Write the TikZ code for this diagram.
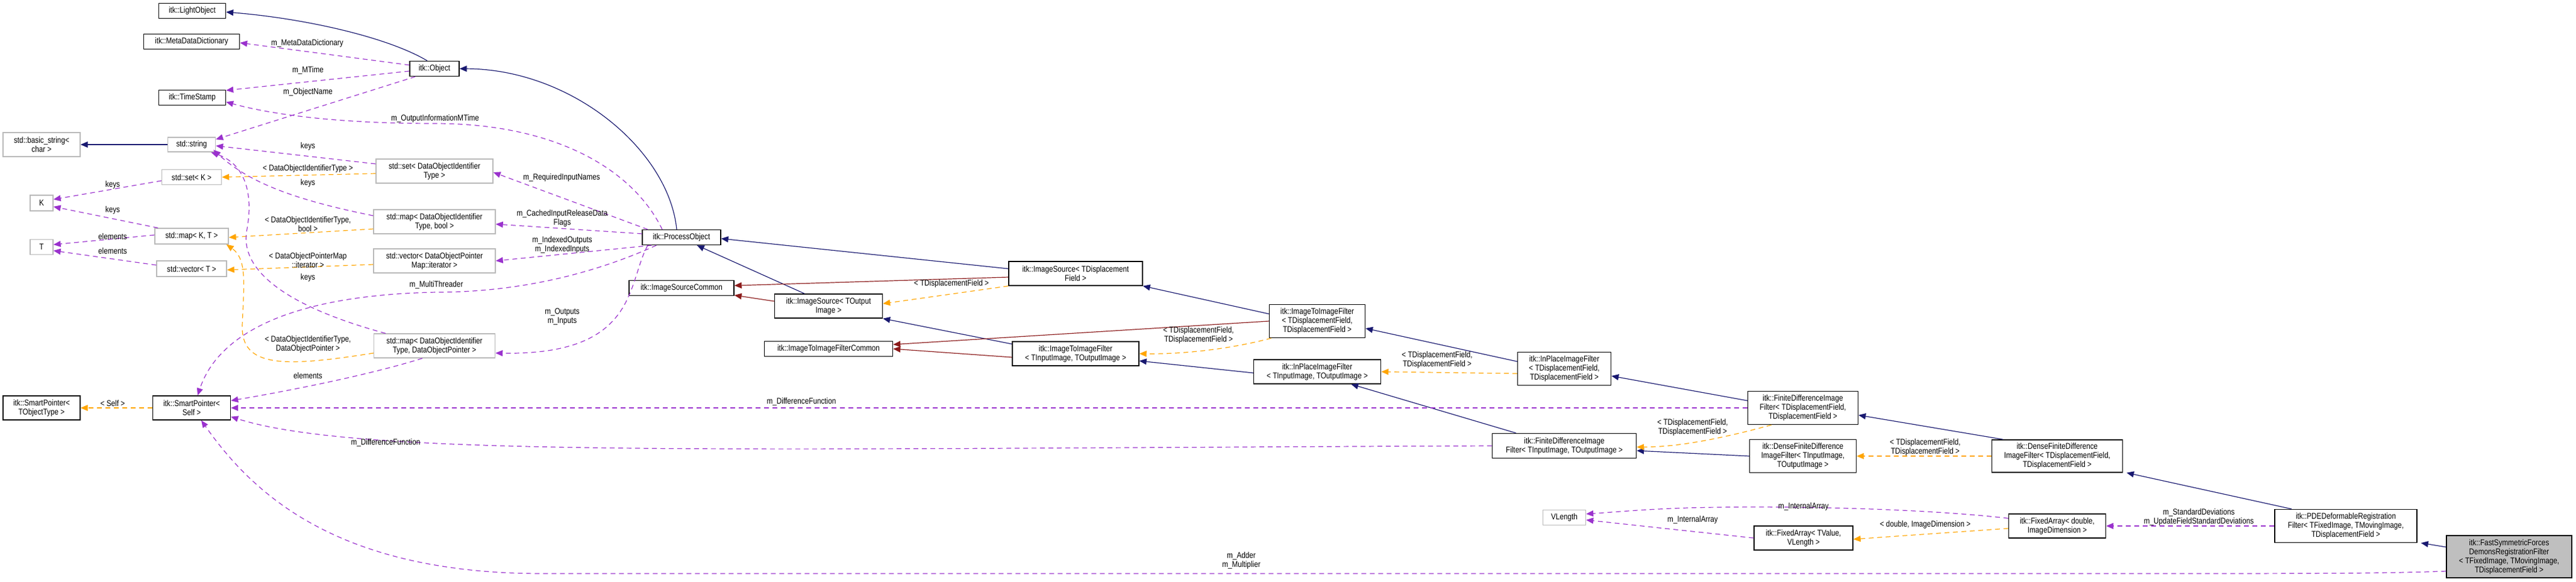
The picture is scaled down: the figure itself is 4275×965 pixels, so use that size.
\documentclass[tikz,border=0pt]{standalone}
\usepackage{fontspec}
\setmainfont{Liberation Sans}[FakeStretch=0.84]
\usetikzlibrary{arrows.meta}
\definecolor{inh}{HTML}{191970}
\definecolor{prv}{HTML}{8B1A1A}
\definecolor{tpl}{HTML}{FFA500}
\definecolor{mem}{HTML}{9A32CD}
\newcommand\bx[7]{\node[#1, minimum width=#5*0.5pt, minimum height=#6*0.5pt] (#2) at (#3,#4) {#7};}
\begin{document}
\begin{tikzpicture}[x=0.5pt,y=-0.5pt,
  font=\fontsize{7}{7.5}\selectfont,
  cls/.style={draw=black, line width=0.7pt, fill=white, align=center, inner sep=1pt},
  ext/.style={draw=gray!55, line width=0.7pt, fill=white, align=center, inner sep=1pt},
  cur/.style={cls, fill=gray!50},
  ih/.style={draw=inh, line width=0.6pt, -{Triangle[length=6pt,width=5pt]}},
  pv/.style={draw=prv, line width=0.6pt, -{Triangle[length=6pt,width=5pt]}},
  tp/.style={draw=tpl, line width=0.6pt, dash pattern=on 4pt off 3pt, -{Triangle[length=6pt,width=5pt]}},
  mb/.style={draw=mem, line width=0.6pt, dash pattern=on 4pt off 3pt, -{Triangle[length=6pt,width=5pt]}},
  lb/.style={align=center, inner sep=0pt}]
\useasboundingbox (0,0) rectangle (4275,965);
% nodes
\bx{cls}{lo}{319}{18}{111}{25}{itk::LightObject}
\bx{cls}{mdd}{318}{69}{159}{25}{itk::MetaDataDictionary}
\bx{cls}{ts}{319}{162}{111}{25}{itk::TimeStamp}
\bx{ext}{bs}{69}{240}{128}{40}{std::basic\_string<\\char >}
\bx{ext}{str}{318}{240}{79}{24}{std::string}
\bx{ext}{setK}{318}{294}{99}{25}{std::set< K >}
\bx{ext}{K}{69}{337}{38}{26}{K}
\bx{ext}{mapKT}{318}{392}{122}{26}{std::map< K, T >}
\bx{ext}{T}{69}{410}{38}{25}{T}
\bx{ext}{vecT}{318}{446}{116}{26}{std::vector< T >}
\bx{cls}{spT}{69}{677}{128}{40}{itk::SmartPointer<\\TObjectType >}
\bx{cls}{spS}{318}{677}{129}{40}{itk::SmartPointer<\\Self >}
\bx{cls}{obj}{721}{114}{82}{25}{itk::Object}
\bx{ext}{setD}{721}{284}{194}{40}{std::set< DataObjectIdentifier\\Type >}
\bx{ext}{mapDb}{721}{368}{202}{40}{std::map< DataObjectIdentifier\\Type, bool >}
\bx{ext}{vecD}{721}{433}{202}{40}{std::vector< DataObjectPointer\\Map::iterator >}
\bx{ext}{mapDP}{721}{574}{201}{40}{std::map< DataObjectIdentifier\\Type, DataObjectPointer >}
\bx{cls}{po}{1131}{394}{130}{25}{itk::ProcessObject}
\bx{cls}{isc}{1131}{478}{174}{25}{itk::ImageSourceCommon}
\bx{cls}{isOut}{1375}{508}{179}{40}{itk::ImageSource< TOutput\\Image >}
\bx{cls}{iifc}{1375}{579}{213}{25}{itk::ImageToImageFilterCommon}
\bx{cls}{isDF}{1785}{454}{222}{40}{itk::ImageSource< TDisplacement\\Field >}
\bx{cls}{iifIn}{1785}{587}{210}{40}{itk::ImageToImageFilter\\< TInputImage, TOutputImage >}
\bx{cls}{iifDF}{2186}{533}{159}{55}{itk::ImageToImageFilter\\< TDisplacementField,\\TDisplacementField >}
\bx{cls}{ipIn}{2186}{617}{211}{40}{itk::InPlaceImageFilter\\< TInputImage, TOutputImage >}
\bx{cls}{ipDF}{2596}{612}{155}{55}{itk::InPlaceImageFilter\\< TDisplacementField,\\TDisplacementField >}
\bx{cls}{fdDF}{2992}{677}{183}{55}{itk::FiniteDifferenceImage\\Filter< TDisplacementField,\\TDisplacementField >}
\bx{cls}{fdIn}{2596}{740}{239}{41}{itk::FiniteDifferenceImage\\Filter< TInputImage, TOutputImage >}
\bx{cls}{dIn}{2992}{757}{177}{55}{itk::DenseFiniteDifference\\ImageFilter< TInputImage,\\TOutputImage >}
\bx{ext}{vl}{2596}{859}{71}{25}{VLength}
\bx{cls}{faV}{2993}{893}{164}{40}{itk::FixedArray< TValue,\\VLength >}
\bx{cls}{dDF}{3414}{757}{217}{54}{itk::DenseFiniteDifference\\ImageFilter< TDisplacementField,\\TDisplacementField >}
\bx{cls}{faD}{3414}{873}{161}{40}{itk::FixedArray< double,\\ImageDimension >}
\bx{cls}{pde}{3893}{873}{236}{55}{itk::PDEDeformableRegistration\\Filter< TFixedImage, TMovingImage,\\TDisplacementField >}
\bx{cur}{fast}{4164}{924}{208}{70}{itk::FastSymmetricForces\\DemonsRegistrationFilter\\< TFixedImage, TMovingImage,\\TDisplacementField >}
% inheritance
\draw[ih] ([xshift=-6pt]obj.north) .. controls (640,60) and (500,30) .. ([yshift=-1pt]lo.east);
\draw[ih] ([xshift=-4pt]po.north) .. controls (1110,250) and (950,115) .. (obj.east);
\draw[ih] (str) -- (bs);
\draw[ih] ([xshift=-20pt]isOut.north) -- ([xshift=-20pt]po.south east);
\draw[ih] ([yshift=4pt]isDF.west) -- ([yshift=-1pt]po.east);
\draw[pv] ([yshift=-3pt]isDF.west) -- ([yshift=2pt]isc.east);
\draw[pv] ([yshift=4pt]isOut.west) -- ([yshift=-6pt]isc.east);
\draw[ih] ([yshift=8pt]iifIn.west) -- (isOut.south east);
\draw[pv] ([yshift=-3pt]iifIn.west) -- (iifc.east);
\draw[pv] (iifDF.west) -- ([yshift=-3pt]iifc.north east);
\draw[ih] ([yshift=6pt]iifDF.west) -- (isDF.south east);
\draw[ih] ([yshift=-1pt]ipIn.west) -- ([yshift=-6pt]iifIn.east);
\draw[ih] ([yshift=6pt]ipDF.west) -- ([yshift=-6pt]iifDF.east);
\draw[ih] ([xshift=-40pt]fdIn.north) -- ([xshift=-25pt]ipIn.south east);
\draw[ih] ([yshift=6pt]fdDF.west) -- ([yshift=-6pt]ipDF.east);
\draw[ih] (dIn.west) -- ([yshift=-4pt]fdIn.east);
\draw[ih] ([xshift=-45pt]dDF.north) -- ([yshift=-6pt]fdDF.east);
\draw[ih] ([xshift=-45pt]pde.north) -- ([xshift=3pt]dDF.south east);
\draw[ih] ([yshift=8pt]fast.west) -- ([xshift=3pt]pde.south east);
% template
\draw[tp] (isDF.south west) -- ([yshift=2pt]isOut.east);
\node[lb] (l1) at (1579,471) {< TDisplacementField >};
\draw[tp] ([xshift=2pt]iifDF.south west) .. controls (2040,580) and (1960,588) .. (iifIn.east);
\node[lb] (l2) at (1989,556) {< TDisplacementField,\\TDisplacementField >};
\draw[tp] ([yshift=-4pt]ipDF.west) -- (ipIn.east);
\node[lb] (l3) at (2385,597) {< TDisplacementField,\\TDisplacementField >};
\draw[tp] ([xshift=20pt]fdDF.south west) .. controls (2850,730) and (2780,742) .. ([yshift=-1pt]fdIn.east);
\node[lb] (l4) at (2809,709) {< TDisplacementField,\\TDisplacementField >};
\draw[tp] (dDF.west) -- (dIn.east);
\node[lb] (l5) at (3195,742) {< TDisplacementField,\\TDisplacementField >};
\draw[tp] ([yshift=-2pt]faD.west) -- ([yshift=-1pt]faV.east);
\node[lb] (l6) at (3195,871) {< double, ImageDimension >};
\draw[tp] ([yshift=-2pt]setD.west) -- (setK.east);
\node[lb] (l7) at (511,280) {< DataObjectIdentifierType >};
\draw[tp] ([yshift=-6pt]mapDb.west) -- ([yshift=-1pt]mapKT.east);
\node[lb] (l8) at (511,372) {< DataObjectIdentifierType,\\bool >};
\draw[tp] ([yshift=-3pt]vecD.west) -- ([yshift=-1pt]vecT.east);
\node[lb] (l9) at (511,432) {< DataObjectPointerMap\\::iterator >};
\draw[tp] ([yshift=-6pt]mapDP.west) .. controls (470,610) and (400,610) .. (402,540) .. controls (405,470) and (410,430) .. ([xshift=-2pt]mapKT.south east);
\node[lb] (l10) at (511,571) {< DataObjectIdentifierType,\\DataObjectPointer >};
\draw[tp] (spS) -- (spT);
\node[lb] (l11) at (187,669) {< Self >};
% members
\draw[mb] ([yshift=3pt]obj.west) -- ([yshift=-1pt]mdd.east);
\node[lb] (m1) at (510,72) {m\_MetaDataDictionary};
\draw[mb] ([yshift=-2pt]obj.west) -- ([yshift=6pt]ts.east);
\node[lb] (m2) at (511,117) {m\_MTime};
\draw[mb] ([xshift=5pt]obj.south west) -- ([yshift=-2pt]str.north east);
\node[lb] (m3) at (511,153) {m\_ObjectName};
\draw[mb] ([xshift=-16pt]po.north) .. controls (1050,280) and (920,205) .. (722,205) .. controls (560,205) and (450,190) .. ([yshift=3pt]ts.south east);
\node[lb] (m4) at (722,197) {m\_OutputInformationMTime};
\draw[mb] ([xshift=-28pt]po.north) -- ([yshift=-1pt]setD.east);
\node[lb] (m5) at (932,295) {m\_RequiredInputNames};
\draw[mb] ([yshift=3pt]po.west) -- ([yshift=-2pt]mapDb.east);
\node[lb] (m6) at (933,362) {m\_CachedInputReleaseData\\Flags};
\draw[mb] ([xshift=8pt]po.south west) -- (vecD.east);
\node[lb] (m7) at (933,406) {m\_IndexedOutputs\\m\_IndexedInputs};
\draw[mb] ([xshift=-28pt]po.south) .. controls (1040,470) and (1060,590) .. ([yshift=-6pt]mapDP.east);
\node[lb] (m8) at (933,526) {m\_Outputs\\m\_Inputs};
\draw[mb] ([xshift=12pt]po.south west) .. controls (950,470) and (820,485) .. (724,485) .. controls (470,490) and (360,560) .. ([xshift=5pt]spS.north);
\node[lb] (m9) at (724,473) {m\_MultiThreader};
\draw[mb] ([yshift=6pt]setD.west) -- ([yshift=-1pt]str.east);
\node[lb] (k1) at (511,243) {keys};
\draw[mb] ([yshift=5pt]mapDb.west) .. controls (480,330) and (410,300) .. ([xshift=-2pt,yshift=2pt]str.south east);
\node[lb] (k2) at (511,304) {keys};
\draw[mb] ([xshift=10pt]mapDP.north west) .. controls (480,510) and (395,450) .. (410,380) .. controls (422,310) and (400,270) .. ([xshift=-4pt]str.south east);
\node[lb] (k3) at (511,461) {keys};
\draw[mb] ([xshift=-10pt]mapDP.south) .. controls (620,620) and (500,645) .. ([yshift=6pt]spS.east);
\node[lb] (e1) at (511,623) {elements};
\draw[mb] ([yshift=-3pt]setK.west) -- ([yshift=3pt]K.east);
\node[lb] (k4) at (187,307) {keys};
\draw[mb] ([xshift=3pt]mapKT.north west) -- ([yshift=-3pt]K.east);
\node[lb] (k5) at (187,349) {keys};
\draw[mb] ([yshift=1pt]mapKT.west) -- ([yshift=2pt]T.east);
\node[lb] (e2) at (187,392) {elements};
\draw[mb] ([yshift=3pt]vecT.west) -- ([yshift=-3pt]T.east);
\node[lb] (e3) at (187,416) {elements};
\draw[mb] (fdDF.west) -- (spS.east);
\node[lb] (m10) at (1330,667) {m\_DifferenceFunction};
\draw[mb] (fdIn.west) .. controls (1200,745) and (600,760) .. ([yshift=3pt]spS.south east);
\node[lb] (m11) at (640,735) {m\_DifferenceFunction};
\draw[mb] ([yshift=-12pt]fast.west) .. controls (3950,952) and (3850,952) .. (3500,952) -- (900,952) .. controls (560,952) and (420,820) .. ([xshift=8pt]spS.south);
\node[lb] (m12) at (2060,930) {m\_Adder\\m\_Multiplier};
\draw[mb] (faV.west) -- ([yshift=-2pt]vl.east);
\node[lb] (m13) at (2809,863) {m\_InternalArray};
\draw[mb] ([yshift=-4pt]faD.north west) .. controls (3200,845) and (3000,840) .. (2850,842) .. controls (2750,843) and (2680,850) .. ([yshift=3pt]vl.east);
\node[lb] (m14) at (2993,841) {m\_InternalArray};
\draw[mb] (pde.west) -- (faD.east);
\node[lb] (m15) at (3649,858) {m\_StandardDeviations\\m\_UpdateFieldStandardDeviations};
\end{tikzpicture}
\end{document}
